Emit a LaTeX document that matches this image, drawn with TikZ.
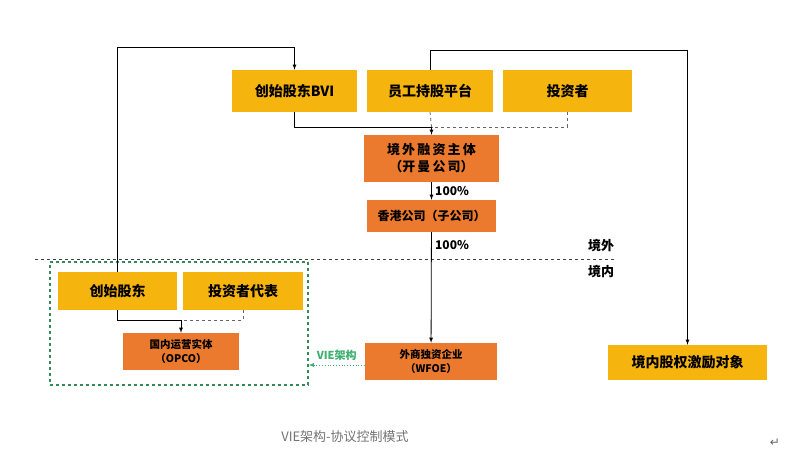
\documentclass[tikz,border=0pt]{standalone}
\usepackage{fontspec}
\setmainfont{Noto Sans CJK SC}
\newfontfamily\symfont{DejaVu Sans}
\usetikzlibrary{positioning}
\definecolor{boxyellow}{HTML}{F6B40E}
\definecolor{boxorange}{HTML}{EC7A2E}
\definecolor{vgreen}{HTML}{3DAF6E}
\tikzset{
  ybox/.style={fill=boxyellow, inner sep=0pt, font=\bfseries\fontsize{14}{16}\selectfont},
  obox/.style={fill=boxorange, inner sep=0pt, align=center, font=\bfseries\fontsize{13}{17}\selectfont},
  link/.style={black, thick, -latex}
}
\begin{document}
\begin{tikzpicture}[x=1pt,y=-1pt]
  \useasboundingbox (0,0) rectangle (800,461);

  %% offshore
  \node[ybox, minimum width=125, minimum height=42] (bvi) at (294.5,91) {创始股东BVI};
  \node[ybox, minimum width=126, minimum height=42] (esop) at (430,91) {员工持股平台};
  \node[ybox, minimum width=129, minimum height=42] (inv) at (567.5,91) {投资者};

  \node[obox, minimum width=135, minimum height=47] (cay) at (431.5,158.5) {境\,外\,融\,资\,主\,体\\（开\,曼\,公\,司）};
  \node[obox, minimum width=129, minimum height=32, font=\bfseries\fontsize{12}{14}\selectfont] (hk) at (431.5,216) {香港公司（子公司）};

  %% onshore
  \node[ybox, minimum width=119, minimum height=38] (fnd) at (117.5,291) {创始股东};
  \node[ybox, minimum width=120, minimum height=38] (rep) at (243,291) {投资者代表};
  \node[obox, minimum width=116, minimum height=37, font=\bfseries\fontsize{10.5}{14}\selectfont] (opco) at (181,351.5) {国内运营实体\\（OPCO）};
  \node[obox, minimum width=132, minimum height=37, font=\bfseries\fontsize{10.5}{14}\selectfont] (wfoe) at (431,361.5) {外商独资企业\\（WFOE）};
  \node[ybox, minimum width=159, minimum height=35] (emp) at (687.5,362.5) {境内股权激励对象};

  %% border
  \draw[black!75, thick, dashed] (35,259) -- (615,259);
  \node[font=\bfseries\fontsize{13}{15}\selectfont] (out) at (601,246) {境外};
  \node[font=\bfseries\fontsize{13}{15}\selectfont] (in) at (601,272) {境内};
  \node[vgreen!80!black, draw, very thick, dashed, minimum width=258, minimum height=123, inner sep=0pt] (grp) at (179,323.5) {};

  %% links
  \coordinate (j) at (cay.north |- 0,127);
  \draw[thick] (bvi.south) |- (j);
  \draw[black!60, thick, dashed] (esop.south) -- (j);
  \draw[black!60, thick, dashed] (inv.south) |- (j);
  \draw[link] (j) -- (cay.north);
  \draw[link] (cay) -- node[right, font=\bfseries\fontsize{12}{13}\selectfont] {100\%} (hk);
  \draw[link] (hk) -- node[pos=0.12, right, font=\bfseries\fontsize{12}{13}\selectfont] {100\%} (wfoe);
  \draw[link] (fnd.north) -- (fnd.north |- 0,47) -| (bvi.north);
  \draw[link] (esop.north) -- (esop.north |- 0,50) -| (emp.north);
  \coordinate (k) at (opco.north |- 0,320);
  \draw[thick] (fnd.south) |- (k);
  \draw[black!60, thick, dashed] (rep.south) |- (k);
  \draw[link] (k) -- (opco.north);
  \draw[vgreen, thick, dotted, -latex] (wfoe.west |- 0,365) -- (grp.east |- 0,365)
    node[midway, above=1pt, font=\bfseries\fontsize{11}{12}\selectfont] {VIE架构};

  \node[black!55, font=\fontsize{13}{15}\selectfont] (cap) at (345,437) {VIE架构-协议控制模式};
  \node[black!60, font=\symfont\fontsize{12}{14}\selectfont] (ret) at (775,443) {↵};
\end{tikzpicture}
\end{document}
